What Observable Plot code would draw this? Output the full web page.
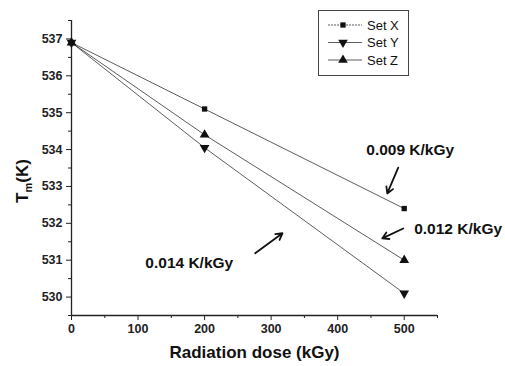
<!DOCTYPE html>
<html><head><meta charset="utf-8">
<script src="https://cdn.jsdelivr.net/npm/d3@7"></script>
<script src="https://cdn.jsdelivr.net/npm/@observablehq/plot@0.6"></script>
<style>
body{margin:0;background:#fff;font-family:"Liberation Sans",Arial,sans-serif}
#wrap{position:relative;width:505px;height:366px}
#legend{position:absolute;left:318px;top:10px}
</style>
</head><body><div id="wrap"></div>
<script>
// Data
const doses = [0, 200, 500];
const setX = [536.9, 535.1, 532.4];
const setY = [536.9, 534.05, 530.1];
const setZ = [536.9, 534.4, 531.0];
const seriesNames = ["Set X", "Set Y", "Set Z"];
const xTicks = [0, 100, 200, 300, 400, 500];
const xMinor = [50, 150, 250, 350, 450, 550];
const yTicks = [530, 531, 532, 533, 534, 535, 536, 537];
const yMinor = [529.5, 530.5, 531.5, 532.5, 533.5, 534.5, 535.5, 536.5, 537.5];
// slope annotations (data coordinates)
const slopeLabels = ["0.009 K/kGy", "0.012 K/kGy", "0.014 K/kGy"];
const labelX = [509, 581, 177];
const labelY = [534.0, 531.84, 530.92];
const arrowX1 = [491, 498.5, 276];
const arrowY1 = [533.51, 531.86, 531.19];
const arrowX2 = [474.5, 467, 317];
const arrowY2 = [532.81, 531.59, 531.73];

const makeRows = (vals, name) => doses.map((d, i) => ({dose: d, tm: vals[i], set: name}));
const rowsX = makeRows(setX, seriesNames[0]);
const rowsY = makeRows(setY, seriesNames[1]);
const rowsZ = makeRows(setZ, seriesNames[2]);
const annots = slopeLabels.map((t, i) => ({t, x: labelX[i], y: labelY[i], x1: arrowX1[i], y1: arrowY1[i], x2: arrowX2[i], y2: arrowY2[i]}));

const ink = "#222";
const chart = Plot.plot({
  width: 505, height: 366,
  marginLeft: 71, marginRight: 68, marginTop: 20, marginBottom: 51,
  style: {fontFamily: '"Liberation Sans", Arial, sans-serif', background: "#fff", overflow: "visible"},
  x: {domain: [0, 550]},
  y: {domain: [529.5, 537.5]},
  marks: [
    Plot.axisX({ticks: xMinor, tickSize: 3, text: null, label: null, stroke: ink}),
    Plot.axisX({ticks: xTicks, tickSize: 5, tickPadding: 4, label: null, stroke: ink, fill: ink, fontSize: 12.5, fontWeight: "bold"}),
    Plot.axisY({ticks: yMinor, tickSize: 3, text: null, label: null, stroke: ink}),
    Plot.axisY({ticks: yTicks, tickSize: 5, tickPadding: 4, label: null, stroke: ink, fill: ink, fontSize: 12.5, fontWeight: "bold"}),
    Plot.ruleX([0], {stroke: ink, strokeWidth: 1.3}),
    Plot.ruleY([529.5], {stroke: ink, strokeWidth: 1.3}),
    Plot.line(rowsX, {x: "dose", y: "tm", stroke: "#333", strokeWidth: 0.8}),
    Plot.line(rowsY, {x: "dose", y: "tm", stroke: "#333", strokeWidth: 0.8}),
    Plot.line(rowsZ, {x: "dose", y: "tm", stroke: "#333", strokeWidth: 0.8}),
    Plot.dot(rowsX, {x: "dose", y: "tm", symbol: "square", r: 3, fill: "#111", stroke: "none"}),
    Plot.dot(rowsY, {x: "dose", y: "tm", symbol: "triangle", rotate: 180, r: 3.6, fill: "#111", stroke: "none"}),
    Plot.dot(rowsZ, {x: "dose", y: "tm", symbol: "triangle", r: 3.6, fill: "#111", stroke: "none"}),
    Plot.arrow(annots, {x1: "x1", y1: "y1", x2: "x2", y2: "y2", stroke: "#111", strokeWidth: 1.8, headLength: 6, bend: 0}),
    Plot.text(annots, {x: "x", y: "y", text: "t", fontSize: 15.5, fontWeight: "bold", fill: "#111"}),
    Plot.text(["Radiation dose (kGy)"], {frameAnchor: "bottom", dy: 42, fontSize: 17, fontWeight: "bold", fill: "#111"})
  ]
});
document.getElementById("wrap").appendChild(chart);

// Y axis title with subscript
const svg = d3.select(chart);
const yt = svg.append("text")
  .attr("transform", "translate(28,181) rotate(-90)")
  .attr("text-anchor", "middle")
  .attr("font-family", '"Liberation Sans", Arial, sans-serif')
  .attr("font-weight", "bold").attr("font-size", 17).attr("fill", "#111");
yt.append("tspan").text("T");
yt.append("tspan").attr("font-size", 11).attr("dy", 4).text("m");
yt.append("tspan").attr("dy", -4).text("(K)");

// Legend
const leg = d3.select("#wrap").append("svg").attr("id", "legend").attr("width", 92).attr("height", 67);
leg.append("rect").attr("x", 0.5).attr("y", 0.5).attr("width", 90).attr("height", 65)
  .attr("fill", "#fff").attr("stroke", "#444").attr("stroke-width", 1);
const legSymbols = [
  {sym: d3.symbolSquare, size: 28, rot: 0, dash: "2,1"},
  {sym: d3.symbolTriangle, size: 40, rot: 180, dash: null},
  {sym: d3.symbolTriangle, size: 40, rot: 0, dash: null}
];
seriesNames.forEach((name, i) => {
  const cy = 15 + i * 17.5;
  const ln = leg.append("line").attr("x1", 10).attr("x2", 44).attr("y1", cy).attr("y2", cy)
    .attr("stroke", "#333").attr("stroke-width", 0.8);
  if (legSymbols[i].dash) ln.attr("stroke-dasharray", legSymbols[i].dash);
  leg.append("path").attr("d", d3.symbol(legSymbols[i].sym, legSymbols[i].size)())
    .attr("transform", `translate(25,${cy}) rotate(${legSymbols[i].rot})`).attr("fill", "#111");
  leg.append("text").attr("x", 49).attr("y", cy + 4.5).attr("font-size", 13)
    .attr("font-family", '"Liberation Sans", Arial, sans-serif').attr("fill", "#111").text(name);
});
</script>
</body></html>
